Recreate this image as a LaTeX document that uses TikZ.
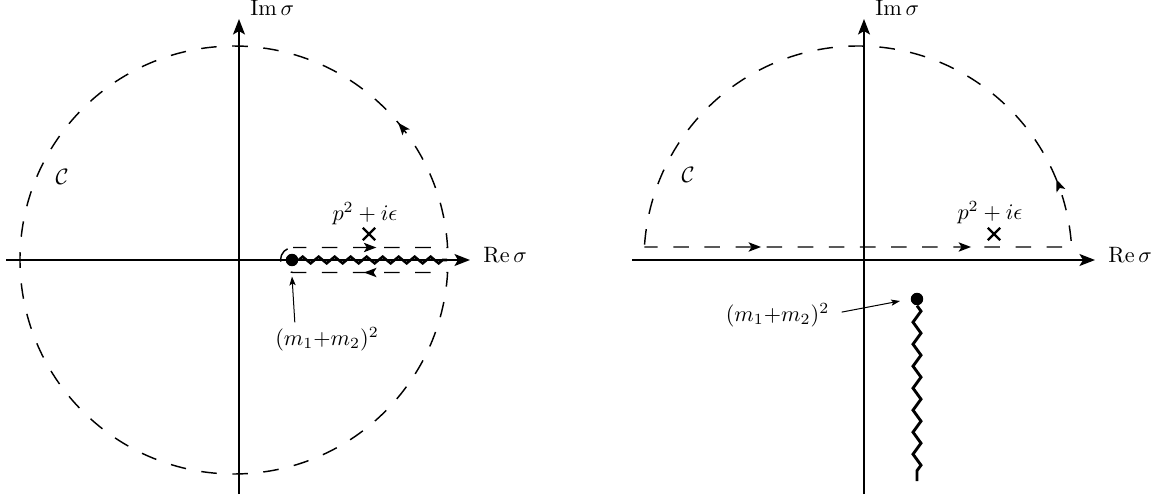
\documentclass[tikz,border=0pt]{standalone}
\usetikzlibrary{arrows.meta,decorations.pathmorphing,decorations.markings,shapes.misc}
\begin{document}
\begin{tikzpicture}[x=0.45pt,y=-0.45pt,
  axis/.style={line width=0.7pt,-{Stealth[length=7pt,width=5.4pt,inset=1.6pt]}},
  contour/.style={line width=0.65pt,dash pattern=on 7pt off 7pt,dash phase=1pt},
  carrow/.style={postaction={decorate,decoration={markings,mark=at position #1 with {\arrow{Stealth[length=5.6pt,width=4.2pt,inset=1.3pt]}}}}},
  cutL/.style={line width=1.15pt,decorate,decoration={zigzag,segment length=7.2pt,amplitude=1.5pt}},
  cutR/.style={line width=1.3pt,decorate,decoration={zigzag,segment length=9.9pt,amplitude=1.8pt}},
  dotnode/.style={circle,fill,inner sep=0pt,minimum size=5.6pt},
  pole/.style={cross out,draw,line width=1.1pt,inner sep=0pt,minimum size=4.5pt},
  pointer/.style={line width=0.45pt,-{Stealth[length=4pt,width=2.8pt,inset=0.9pt]}},
  lbl/.style={inner sep=0pt}
]
\useasboundingbox (0,0) rectangle (1158,498);

% ---------------- left figure ----------------
\coordinate (L-xs) at (6,260);
\coordinate (L-xe) at (470,260);
\coordinate (L-ys) at (239,494);
\coordinate (L-ye) at (239,19);
\draw[axis] (L-xs) -- (L-xe);
\draw[axis] (L-ys) -- (L-ye);
\node[lbl,anchor=base west] (L-re) at (483,262) {$\mathrm{Re}\,\sigma$};
\node[lbl,anchor=base west] (L-im) at (250,15.5) {$\mathrm{Im}\,\sigma$};

\draw[contour,carrow=37.5pt,carrow=131pt,carrow=701pt]
  (293,247.5) -- (447.6,247.5)
  arc[start angle=-3.35,end angle=-356.65,radius=214]
  -- (293,272.5)
  arc[start angle=90,end angle=270,radius=12.5] -- cycle;

\node[dotnode] (L-dot) at (292,260) {};
\coordinate (L-cutend) at (447,260);
\draw[cutL] (L-dot.east) -- (L-cutend);

\node[pole] (L-pole) at (369,234) {};
\node[lbl] (L-plab) at (365,213.5) {$p^2+i\epsilon$};
\node[lbl] (L-C) at (62,177) {$\mathcal{C}$};
\node[lbl] (L-mlab) at (327,339) {$(m_1{+}m_2)^2$};
\coordinate (L-ptip) at (292,276.5);
\draw[pointer] ([xshift=9pt,yshift=2pt]L-mlab.north west) -- (L-ptip);

% ---------------- right figure ----------------
\coordinate (R-xs) at (632,260);
\coordinate (R-xe) at (1095,260);
\coordinate (R-ys) at (864,494);
\coordinate (R-ye) at (864,19);
\draw[axis] (R-xs) -- (R-xe);
\draw[axis] (R-ys) -- (R-ye);
\node[lbl,anchor=base west] (R-re) at (1108,262) {$\mathrm{Re}\,\sigma$};
\node[lbl,anchor=base west] (R-im) at (875,15.5) {$\mathrm{Im}\,\sigma$};

\draw[contour,carrow=52.5pt,carrow=147pt,carrow=223.7pt]
  (644.4,247) -- (1071.6,247)
  arc[start angle=-3.48,end angle=-176.52,radius=214] -- cycle;

\node[dotnode] (R-dot) at (917,299) {};
\coordinate (R-cutend) at (917,481);
\draw[cutR] (R-dot.south) -- (R-cutend);

\node[pole] (R-pole) at (994,234) {};
\node[lbl] (R-plab) at (990,212.5) {$p^2+i\epsilon$};
\node[lbl] (R-C) at (688,175) {$\mathcal{C}$};
\node[lbl] (R-mlab) at (777.5,315) {$(m_1{+}m_2)^2$};
\coordinate (R-ptip) at (900,301);
\draw[pointer] ([xshift=5.4pt,yshift=1.3pt]R-mlab.east) -- (R-ptip);
\end{tikzpicture}
\end{document}
